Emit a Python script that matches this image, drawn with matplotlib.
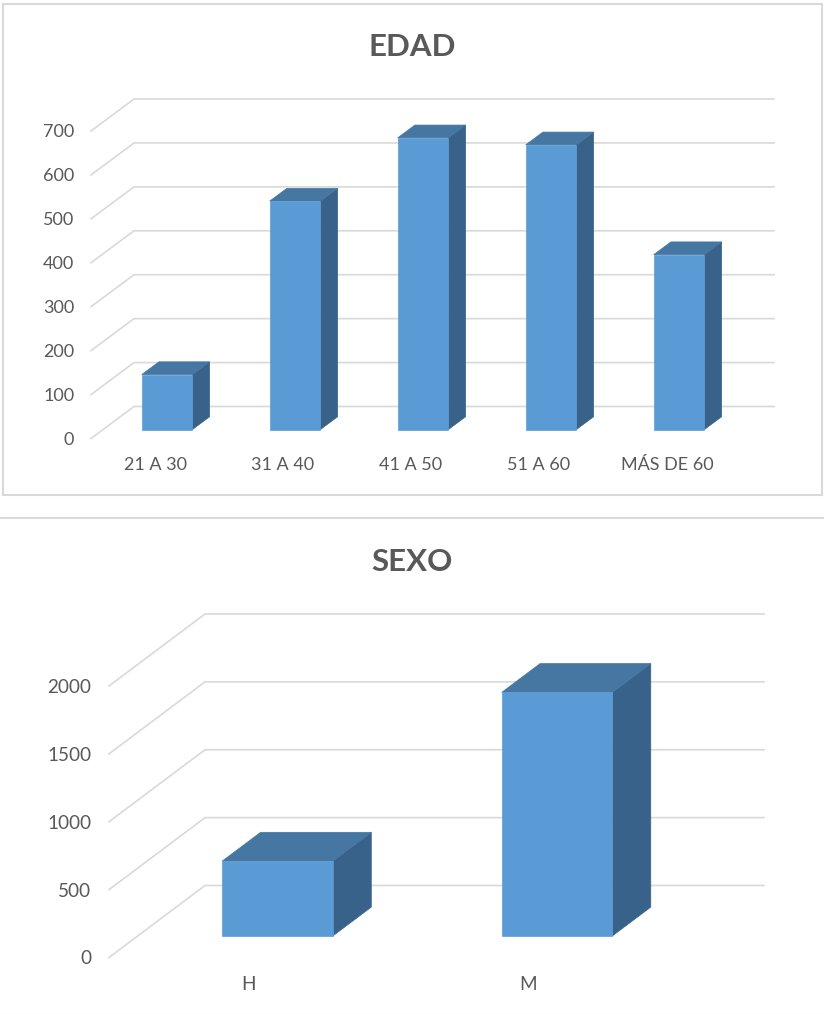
import matplotlib
matplotlib.use("Agg")
import matplotlib.pyplot as plt
from matplotlib.patches import Polygon, Rectangle

plt.rcParams['font.family'] = ['Lato', 'DejaVu Sans']

W, H = 824, 1014

edad_title = "EDAD"
edad_categories = ["21 A 30", "31 A 40", "41 A 50", "51 A 60", "MÁS DE 60"]
edad_values = [125, 520, 664, 648, 398]
edad_ticks = [0, 100, 200, 300, 400, 500, 600, 700]

sexo_title = "SEXO"
sexo_categories = ["H", "M"]
sexo_values = [551, 1794]
sexo_ticks = [0, 500, 1000, 1500, 2000]

FRONT = "#5B9BD5"
TOP = "#4676A2"
SIDE = "#39628A"
GRID = "#D9D9D9"
TEXT = "#595959"


def panel(box, title, title_y, cats, vals, ticks, plot_box, depth_px, d0, tick_pad, label_pad, fs):
    fig.add_artist(Rectangle((box[0] / W, 1 - box[3] / H), (box[2] - box[0]) / W, (box[3] - box[1]) / H,
                             transform=fig.transFigure, fill=False, edgecolor=GRID, linewidth=1.5))
    fig.text(412 / W, 1 - title_y / H, title, ha="center", va="center",
             fontsize=22.5, fontweight="bold", color=TEXT)
    l, t, r, b = plot_box
    ax = fig.add_axes([l / W, 1 - b / H, (r - l) / W, (b - t) / H])
    ax.set_xlim(0, len(cats))
    ax.set_ylim(0, ticks[-1])
    ax.patch.set_visible(False)
    for s in ax.spines.values():
        s.set_visible(False)
    ax.set_xticks([i + 0.5 for i in range(len(cats))], cats)
    ax.set_yticks(ticks)
    ax.tick_params(axis="x", length=0, pad=label_pad, labelsize=fs, labelcolor=TEXT)
    ax.tick_params(axis="y", length=0, pad=tick_pad, labelsize=fs, labelcolor=TEXT)

    ux = depth_px[0] / ((r - l) / len(cats))
    uy = depth_px[1] / ((b - t) / ticks[-1])

    def P(x, y, d):
        return (x + d * ux, y + d * uy)

    for v in ticks:
        ax.plot(*zip(P(0, v, 0), P(0, v, 1), P(len(cats), v, 1)), color=GRID, lw=1.2,
                clip_on=False, zorder=1, solid_joinstyle="miter")

    d1 = d0 + 0.4
    w = 0.396
    for i, v in enumerate(vals):
        x0, x1 = i + 0.5 - w / 2, i + 0.5 + w / 2
        polys = [
            ([P(x1, 0, d0), P(x1, 0, d1), P(x1, v, d1), P(x1, v, d0)], SIDE),
            ([P(x0, v, d0), P(x1, v, d0), P(x1, v, d1), P(x0, v, d1)], TOP),
            ([P(x0, 0, d0), P(x1, 0, d0), P(x1, v, d0), P(x0, v, d0)], FRONT),
        ]
        for pts, c in polys:
            ax.add_patch(Polygon(pts, closed=True, facecolor=c, edgecolor=c, lw=0.5,
                                 clip_on=False, zorder=3))
    return ax


fig = plt.figure(figsize=(W / 100, H / 100), dpi=100, facecolor="white")

panel((2.5, 4, 822, 495), edad_title, 47, edad_categories, edad_values, edad_ticks,
      (91, 131, 731, 438.5), (43, 32), 0.28, 12, 13, 13)
panel((-2, 518, 826, 1014.6), sexo_title, 562, sexo_categories, sexo_values, sexo_ticks,
      (109, 686, 668, 957.5), (96, 72), 0.3, 13, 13, 13.6)

fig.savefig("out.png", dpi=100)
